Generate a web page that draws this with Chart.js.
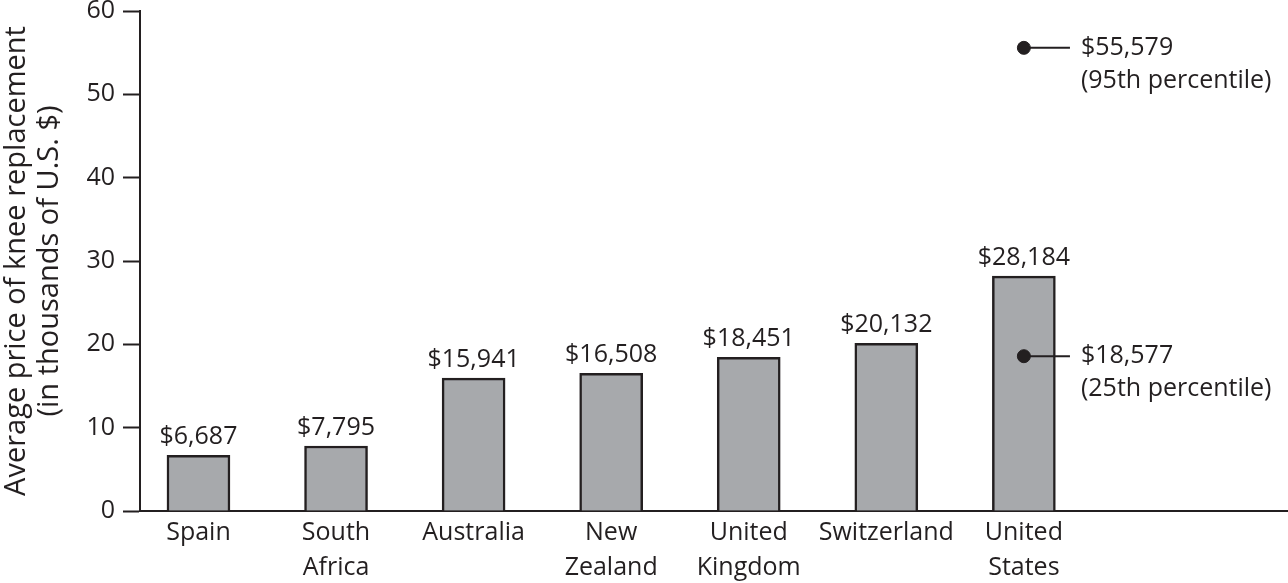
<!DOCTYPE html>
<html>
<head>
<meta charset="utf-8">
<script src="https://cdn.jsdelivr.net/npm/chart.js@4/dist/chart.umd.min.js"></script>
<style>
  body { margin: 0; background: #fff; }
</style>
</head>
<body>
<canvas id="kneeChart" width="1288" height="583"></canvas>
<script>
const countries = [["Spain"], ["South", "Africa"], ["Australia"], ["New", "Zealand"], ["United", "Kingdom"], ["Switzerland"], ["United", "States"]];
const avgPrice = [6.687, 7.795, 15.941, 16.508, 18.451, 20.132, 28.184];
const priceLabels = ["$6,687", "$7,795", "$15,941", "$16,508", "$18,451", "$20,132", "$28,184"];
const usPercentiles = [55.579, 18.577];
const percentileLabels = [["$55,579", "(95th percentile)"], ["$18,577", "(25th percentile)"]];
const yTicks = [0, 10, 20, 30, 40, 50, 60];

const ink = "#231f20";
const fontFamily = "'Open Sans', 'Noto Sans', sans-serif";
const usIndex = 6;
const leaderEnd = 6.335;

const barLabels = {
  id: "barLabels",
  afterDatasetsDraw(chart) {
    const ctx = chart.ctx;
    ctx.save();
    ctx.fillStyle = ink;
    ctx.font = "25px " + fontFamily;
    ctx.textAlign = "center";
    ctx.textBaseline = "alphabetic";
    chart.getDatasetMeta(0).data.forEach(function (bar, i) {
      ctx.fillText(priceLabels[i], bar.x, bar.y - 11);
    });

    // percentile notes next to the leader lines
    ctx.textAlign = "left";
    ctx.textBaseline = "middle";
    const xs = chart.scales.x;
    const ys = chart.scales.y;
    usPercentiles.forEach(function (v, i) {
      let px = xs.getPixelForValue(leaderEnd) + 11;
      let py = ys.getPixelForValue(v);
      ctx.fillText(percentileLabels[i][0], px, py);
      ctx.fillText(percentileLabels[i][1], px, py + 33);
    });
    ctx.restore();
  },
};

const chartCtx = document.getElementById("kneeChart");

let kneeChart = new Chart(chartCtx, {
  type: "bar",
  data: {
    datasets: [
      {
        type: "bar",
        data: avgPrice.map(function (v, i) { return { x: i, y: v }; }),
        backgroundColor: "#a7a9ac",
        borderColor: ink,
        borderWidth: 2.5,
        borderSkipped: "bottom",
        barThickness: 63,
        order: 3,
      },
      {
        type: "line",
        data: [{ x: usIndex, y: usPercentiles[0] }, { x: leaderEnd, y: usPercentiles[0] }],
        borderColor: ink,
        borderWidth: 2,
        pointRadius: 0,
        order: 2,
      },
      {
        type: "line",
        data: [{ x: usIndex, y: usPercentiles[1] }, { x: leaderEnd, y: usPercentiles[1] }],
        borderColor: ink,
        borderWidth: 2,
        pointRadius: 0,
        order: 2,
      },
      {
        type: "scatter",
        data: usPercentiles.map(function (v) { return { x: usIndex, y: v }; }),
        backgroundColor: ink,
        borderColor: ink,
        pointRadius: 6.5,
        order: 1,
      },
    ],
  },
  options: {
    responsive: false,
    animation: false,
    layout: { autoPadding: false, padding: { top: 11, right: 0, left: 0, bottom: 0 } },
    plugins: {
      legend: { display: false },
      tooltip: { enabled: false },
    },
    scales: {
      x: {
        type: "linear",
        offset: false,
        min: -0.425,
        max: 7.92,
        afterBuildTicks: function (scale) {
          scale.ticks = countries.map(function (c, i) { return { value: i }; });
        },
        afterFit: function (scale) {
          scale.height = 72;
          scale.paddingLeft = 0;
          scale.paddingRight = 0;
        },
        ticks: {
          autoSkip: false,
          maxRotation: 0,
          padding: 4,
          color: ink,
          font: { family: fontFamily, size: 25, lineHeight: 1.4 },
          callback: function (value) {
            return countries[value] || "";
          },
        },
        grid: { display: false, drawTicks: false },
        border: { display: true, color: ink, width: 2 },
      },
      y: {
        min: 0,
        max: 60,
        afterBuildTicks: function (scale) {
          scale.ticks = yTicks.map(function (v) { return { value: v }; });
        },
        afterFit: function (scale) {
          scale.width = 140;
          scale.paddingTop = 0;
          scale.paddingBottom = 0;
        },
        ticks: {
          padding: 8,
          color: ink,
          font: { family: fontFamily, size: 25 },
        },
        grid: {
          drawOnChartArea: false,
          drawTicks: true,
          tickLength: 17,
          tickWidth: 2,
          tickColor: ink,
        },
        border: { display: true, color: ink, width: 2 },
        title: {
          display: true,
          text: ["Average price of knee replacement", "(in thousands of U.S. $)"],
          color: ink,
          font: { family: fontFamily, size: 29, lineHeight: 1.15 },
          padding: { top: 0, bottom: 0 },
        },
      },
    },
  },
  plugins: [barLabels],
});
</script>
</body>
</html>
